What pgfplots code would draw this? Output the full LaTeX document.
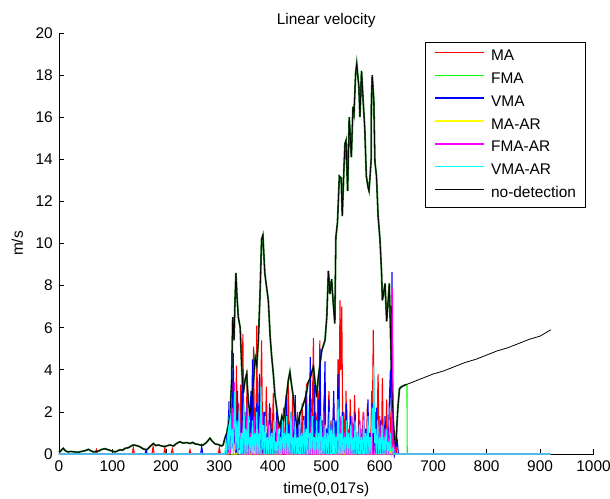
\documentclass[border=0pt]{standalone}
\usepackage{fontspec}
\setmainfont{Liberation Sans}
\usepackage{pgfplots}
\usepackage{pgfplotstable}
\pgfplotsset{compat=1.18}
\usetikzlibrary{calc}
\newcommand\fs{\fontsize{15.5}{18.6}\selectfont}
\definecolor{fmadark}{rgb}{0.12,0.42,0.12}
\definecolor{mred}{rgb}{1,0,0}
\definecolor{mgreen}{rgb}{0,1,0}
\definecolor{mblue}{rgb}{0,0,1}
\definecolor{myellow}{rgb}{1,1,0}
\definecolor{mmagenta}{rgb}{1,0,1}
\definecolor{mcyan}{rgb}{0,1,1}

% no-detection signal (the FMA curve follows it up to t=650)
\pgfplotstableread{
x y
0 0.15
2 0.11
5 0.2
8 0.27
12 0.15
17 0.1
22 0.12
29 0.1
35 0.08
42 0.12
48 0.15
55 0.22
60 0.15
64 0.1
70 0.12
75 0.15
80 0.22
86 0.25
92 0.2
98 0.15
105 0.1
110 0.15
114 0.2
119 0.18
123.5 0.27
130 0.3
135 0.38
139 0.43
145 0.4
151 0.35
157 0.25
164 0.19
170 0.35
176.5 0.5
181 0.4
186 0.43
192 0.38
198 0.35
203 0.4
208 0.43
214 0.38
220 0.5
226 0.58
232 0.52
239 0.54
245 0.5
250 0.55
254.7 0.48
260 0.46
265 0.42
270 0.43
276 0.55
282.5 0.75
287 0.6
292 0.48
298 0.45
304 0.38
307 0.43
311 0.8
314 1.0
317 1.5
320 1.9
323 3.5
325 6.5
327.5 5.4
329 7.0
331 8.6
333 7.5
335.5 6.5
339 6.0
342 4.0
345 2.9
348 3.5
351 3.8
354 2.6
357 1.9
361 2.6
364 3.5
367 4.6
370 4.2
373 5.4
376 7.5
379 10.2
381.5 10.4
385 8.6
388 8.0
391.6 7.3
395 5.6
398 4.6
401 3.8
404 2.8
407 2.25
410 1.6
413.5 1.3
417 1.8
420 1.6
424 2.4
429 3.5
432 3.9
435 3.3
438.5 2.7
441 2.0
444.6 1.3
448 1.6
450.8 1.9
455 2.2
460 2.6
463 2.9
466 3.4
470 3.6
473 3.9
476 4.15
479 3.4
482 2.7
485 3.6
488 4.2
491.5 4.9
494 5.1
497.7 5.4
501 6.5
504 8.7
507 7.6
510 8.3
513 7.2
516 6.2
518 10.3
521 11.0
524.5 13.2
528 13.1
530 11.3
533 13.5
535 14.75
537 14.9
540 12.5
543 16.0
547 14.1
550 16.5
552 16.2
555 18.1
557 18.55
559 18.0
561 17.45
563 16.0
566 18.2
569 16.8
572 15.5
575 13.2
578 12.7
580 12.5
582 13.2
584 14.0
584.5 16.8
586 18.0
589 16.8
591 13.9
594 13.2
597 11.3
600.5 10.2
603.5 8.6
605 7.3
607 7.6
610 8.1
613 6.3
615 7.0
618 8.1
620 6.0
622 3.85
624 2.3
626 1.3
629 0.35
631 0.6
632 1.3
634 2.2
637 3.1
641 3.2
645 3.25
650 3.3
660 3.4
680 3.6
700 3.8
720 3.95
740 4.15
760 4.35
780 4.5
800 4.7
820 4.9
840 5.05
860 5.25
880 5.45
900 5.6
910 5.75
920 5.9
}\nodet

\begin{document}
\begin{tikzpicture}
\begin{axis}[
  name=ax,
  scale only axis,
  width=534.5bp, height=421bp,
  xmin=0, xmax=1000, ymin=0, ymax=20,
  xtick={0,100,...,1000},
  ytick={0,2,...,20},
  axis x line=bottom, axis y line=left,
  axis line style={-, line width=0.8bp},
  tick align=inside,
  major tick length=5bp,
  tick style={black, line width=0.6bp},
  clip=false,
  font=\fs,
  /pgf/number format/assume math mode=true,
  /pgf/number format/1000 sep={},
  ticklabel style={font=\fs},
  xticklabel style={inner sep=0pt, yshift=-6.5bp},
  yticklabel style={inner sep=0pt, xshift=-6bp},
  title={Linear velocity},
  every axis title/.style={at={(axis description cs:0.5,1.019)}, anchor=base, font=\fs},
  xlabel={time(0,017s)},
  every axis x label/.style={at={(axis description cs:0.5,-0.095)}, anchor=base, font=\fs},
  ylabel={m/s},
  every axis y label/.style={at={(axis description cs:-0.0674,0.5)}, rotate=90, anchor=base, font=\fs},
  legend style={at={(0.985,0.978)}, anchor=north east, draw=black, line width=0.8bp,
    font=\fs, inner xsep=9bp, inner ysep=7bp, row sep=8.8bp, column sep=6bp,
    nodes={inner sep=0pt, text height=11bp, text depth=3bp}},
  legend cell align=left,
  legend image code/.code={\draw[#1, line width=1.6bp] (0bp,4bp) -- (49bp,4bp);},
  every axis plot/.append style={line width=1.1bp},
]
% MA
\addplot[color=mred] coordinates {(0,0)(68,0)(70,0.2)(72,0)(137,0)(139,0.3)(141,0)(174,0)(176,0.35)(178,0)(196,0)(198,0.3)(200,0)(210,0)(212,0.25)(214,0)(243,0)(245,0.2)(247,0)(298,0)(300,0.3)(302,0)(314,0)
(316,1.0)(318,0)(320,2.2)(322,0.3)(324,3.6)(326,0.5)(328,1.8)(330,0)(332,4.2)(334,0.4)(336,2.4)(338,0.2)(340,3.3)(342,0.6)(344,5.7)(346,0.3)(348,2.0)(350,0)(352,4.0)(354,0.2)(356,1.5)(358,0)(360,2.8)(362,0.4)(364,5.1)(365.5,1.0)(367,2.2)(368.5,0.5)(370,6.1)(372,0)(374,1.0)(376,0)(379,5.4)(381,0.4)(383,2.0)(385,0)(388,3.2)(390,0.2)(392,1.2)(394,0)(396,2.2)(398,0)(401,2.9)(403,0)(405,1.0)(407,0)(410,1.8)(412,0)(414,0.8)(417,0)(420,2.2)(422,0)(425,1.2)(427,0)(429,3.5)(431,0.2)(433,1.6)(435,0)(437,2.8)(439,0)(441,1.0)(443,0)(446,2.0)(448,0)(451,1.2)(453,0)(455,2.4)(457,0)(459,1.0)(461,0)(463,3.35)(465,0.3)(467,1.4)(469,0)(471,2.6)(473,0.2)(476,5.5)(478,0.3)(480,2.0)(482,0)(484,3.0)(486,0.4)(488,5.4)(490,0.2)(492,1.6)(494,0)(496,2.6)(498,0)(500,1.0)(502,0)(505,3.0)(507,0)(509,1.6)(511,0)(514,2.4)(516,0)(518,1.2)(520,0)(522,4.5)(524,1.5)(525.7,7.3)(527,4.0)(529,7.0)(531,0.5)(533,2.0)(535,0)(537,3.0)(539,0)(541,1.2)(543,0)(545,2.6)(547,0)(549,1.5)(551,0)(553,2.8)(555,0)(557,1.0)(559,0)(561,2.2)(563,0)(565,1.2)(567,0)(569,2.0)(571,0)(573,1.0)(575,0)(577,2.4)(579,0)(581,1.0)(583,0)(585,3.0)(586.5,2.0)(588,5.9)(590,0.5)(592,2.0)(594,0)(597,3.8)(599,0)(601,1.2)(603,0)(605,3.6)(607,0)(609,1.0)(611,0)(613,2.6)(615,0)(617,1.0)(619,0)(621,2.0)(623,0)(625,0.8)(627,0)(630,0.5)(632,0)(920,0)};
\addlegendentry{MA}
% FMA: dark underlay along the no-detection curve, bright part where it leaves it
\addplot[color=fmadark, line width=1.8bp, restrict x to domain=0:650, forget plot] table[x=x,y=y] {\nodet};
\addplot[color=mgreen] coordinates {(650,3.3)(651,3.3)(651.5,0)(920,0)};
\addlegendentry{FMA}
% VMA
\addplot[color=mblue] coordinates {(0,0)(161,0)(163,0.2)(165,0)(265,0)(267,0.35)(269,0)(312,0)(314,1.0)(316,0)(318,2.5)(320,0.2)(322,1.2)(324,0.3)(326,4.8)(328,0.5)(330,2.0)(332,0)(334,3.0)(336,0.2)(338,1.5)(340,0)(343,3.6)(345,0)(347,1.2)(349,0)(351,2.2)(353,0)(355,1.0)(357,0)(359,3.0)(360.5,1.2)(362,4.5)(364,0.2)(366,1.5)(368,0)(370,2.4)(372,0)(375,3.8)(377,0.3)(379,1.2)(381,0)(384,2.0)(386,0)(389,1.0)(391,0)(394,2.4)(396,0)(398,1.2)(400,0)(403,0.8)(405,0)(407,2.0)(409,0)(411,1.0)(413,0)(416,1.6)(418,0)(421,1.0)(423,0)(425,2.8)(427,0.2)(430,1.4)(432,0)(434,2.0)(436,0)(438,1.0)(440,0)(442,2.8)(444,0.2)(446,1.6)(448,0)(450,2.0)(452,0)(454,1.0)(456,0)(458,1.8)(460,0)(462,3.0)(464,0.2)(466,1.4)(468,0)(470,4.6)(472,0.3)(474,1.8)(476,0)(478,3.3)(480,0.2)(482,1.4)(484,0)(485.5,2.6)(487,0.8)(488.5,5.0)(490,0.3)(492,1.6)(494,0)(497.7,4.4)(499,0.5)(501,1.2)(503,0)(505,2.6)(507,0)(509,1.4)(511,0)(514,3.0)(516,0)(518,1.6)(520,0)(522,3.8)(524,0.2)(526,1.2)(528,0)(530,2.0)(532,0)(534,1.0)(536,0)(538,2.4)(540,0)(542,1.0)(544,0)(546,1.8)(548,0)(550,0.8)(552,0)(554,2.0)(556,0)(558,1.0)(560,0)(562,1.6)(564,0)(566,0.8)(568,0)(570,1.8)(572,0)(574,1.2)(576,0)(578,2.6)(580,0)(582,1.0)(584,0)(586,2.4)(588,0)(590,1.2)(592,0)(594,2.2)(596,0)(598,1.0)(600,0)(602,1.6)(604,0)(606,0.8)(608,0)(610,1.8)(612,0)(614,1.0)(616,0)(618,2.5)(620,4.0)(621.5,2.0)(623,8.65)(624,4.0)(626,1.0)(628,0)(630,0.3)(633,0.6)(635,0)(920,0)};
\addlegendentry{VMA}
% MA-AR
\addplot[color=myellow] coordinates {(0,0)(318,0)(320,0.4)(322,0)(333,0)(335,0.3)(337,0)(418,0)(420,0.4)(422,0)(468,0)(470,0.3)(472,0)(558,0)(560,0.3)(562,0)(618,0)(620,0.2)(622,0)(920,0)};
\addlegendentry{MA-AR}
% FMA-AR
\addplot[color=mmagenta] coordinates {(0,0)(316,0)(318,1.2)(320,0)(322,0.4)(324,2.2)(326,0.3)(328,3.4)(330,0.2)(333,1.4)(335,0)(338,2.0)(340,0)(344,0)(346,1.5)(348,0)(350,0)(352,2.4)(354,0)(356,0)(358,1.0)(360,0)(363,0)(365,1.8)(367,0)(370,0)(372,1.2)(374,0)(378,0)(380,2.0)(382,0)(384,0)(386,0.8)(388,0)(390,0)(392,1.5)(394,0)(398,0)(400,1.0)(402,0)(406,0)(408,1.6)(410,0)(412,0)(414,0.8)(416,0)(418,0)(420,1.4)(422,0)(426,0)(428,1.0)(430,0)(434,0)(436,1.8)(438,0)(441,0)(443,0.8)(445,0)(448,0)(450,1.2)(452,0)(456,0)(458,1.6)(460,0)(463,0)(465,1.0)(467,0)(470,0)(472,2.0)(474,0)(478,0)(480,1.0)(482,0)(486,0)(488,1.6)(490,0)(493,0)(495,2.0)(497,0)(500,0)(502,1.0)(504,0)(508,0)(510,1.4)(512,0)(516,0)(518,1.0)(520,0)(524,0)(526,1.8)(528,0)(532,0)(534,1.0)(536,0)(538,0)(540,1.2)(542,0)(546,0)(548,1.8)(550,0)(554,0)(556,1.0)(558,0)(561,0)(563,1.6)(565,0)(568,0)(570,2.0)(572,0)(576,0)(578,1.0)(580,0)(583,0)(585,1.6)(587,0)(591,0)(593,1.0)(595,0)(598,0)(600,1.8)(602,0)(606,0)(608,1.2)(610,0)(613,0)(615,1.4)(617,0)(622.3,0)(623.8,7.9)(625.3,0)(626,0)(628,0.5)(630,0)(920,0)};
\addlegendentry{FMA-AR}
% VMA-AR
\addplot[color=mcyan] coordinates {(0,0)(310,0)(312,0.5)(314,0)(316,1.8)(318,0.2)(320,2.5)(322,0.2)(324,1.2)(326,0)(329,3.0)(331,0.2)(333,1.6)(335,0)(337,2.2)(339,0)(342,1.0)(344,0)(346,2.4)(348,0)(350,1.2)(352,0)(354,1.8)(356,0)(358,0.8)(360,0)(362,1.6)(364,0)(366,1.0)(368,0)(370,2.0)(372,0)(374,1.0)(376,0)(378,3.2)(380,0.2)(382,1.4)(384,0)(386,1.8)(388,0)(390,0.8)(392,0)(394,1.4)(396,0)(398,1.0)(400,0)(402,1.6)(404,0)(406,0.6)(408,0)(410,1.2)(412,0)(414,0.8)(416,0)(418,1.6)(420,0)(422,1.0)(424,0)(426,1.8)(428,0)(430,1.0)(432,0)(434,2.0)(436,0)(438,0.8)(440,0)(442,1.6)(444,0)(446,0.8)(448,0)(450,1.4)(452,0)(454,1.0)(456,0)(458,1.6)(460,0)(462,1.2)(464,0)(466,2.4)(468,0)(470,1.0)(472,0)(474,1.8)(476,0)(478,0.8)(480,0)(482,1.6)(484,0)(486,1.0)(488,0)(490,1.8)(492,0)(494,0.8)(496,0)(498,1.4)(500,0)(502,1.0)(504,0)(506,2.0)(508,0)(510,1.2)(512,0)(514,1.6)(516,0)(518,0.8)(520,0)(522,2.6)(524,0)(526,1.0)(528,0)(530,1.8)(532,0)(534,0.8)(536,0)(538,1.6)(540,0)(542,1.0)(544,0)(546,1.4)(548,0)(550,0.8)(552,0)(554,1.6)(556,0)(558,1.0)(560,0)(562,1.4)(564,0)(566,0.8)(568,0)(570,1.6)(572,0)(574,1.0)(576,0)(578,1.8)(580,0)(582,0.8)(584,0)(586,2.2)(587.5,1.0)(589,4.2)(590.5,0.5)(592,1.2)(594,0)(596,1.6)(598,0)(600,0.8)(602,0)(604,1.4)(606,0)(608,0.8)(610,0)(612,1.2)(614,0)(616,0.6)(618,0)(620,1.0)(622,0)(625,0.3)(627,0)(920,0)};
\addlegendentry{VMA-AR}
% no-detection
\addplot[color=black, line width=0.8bp] table[x=x,y=y] {\nodet};
\addlegendentry{no-detection}
\end{axis}
\pgfresetboundingbox
\path[use as bounding box] ($(ax.south west)+(-59bp,-45bp)$) rectangle ($(ax.north east)+(16.5bp,33bp)$);
\end{tikzpicture}
\end{document}
